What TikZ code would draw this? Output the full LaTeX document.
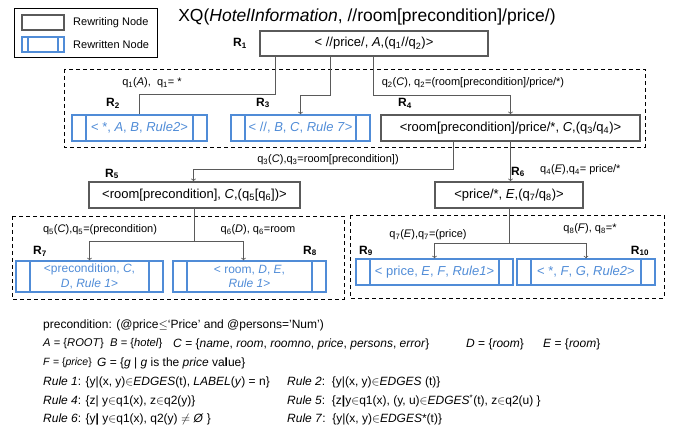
\documentclass[tikz,border=0pt]{standalone}
\usepackage{fontspec}
\setmainfont{Liberation Sans}
\usetikzlibrary{positioning,calc}
\definecolor{nodegray}{RGB}{90,90,90}
\definecolor{nodeblue}{RGB}{80,140,215}

\begin{document}
\begin{tikzpicture}
  [x=1pt,y=-1pt,>=to,
   rewriting/.style={draw=nodegray,line width=1.6pt,inner sep=0pt,font=\fontsize{13}{15}\selectfont},
   rewritten/.style={draw=nodeblue,line width=1.4pt,inner sep=0pt,text=nodeblue,align=center,
     font=\fontsize{13}{15}\selectfont,
     path picture={\draw[nodeblue,line width=1.4pt]
       ([xshift=#1]path picture bounding box.north west) -- ([xshift=#1]path picture bounding box.south west)
       ([xshift=-#1]path picture bounding box.north east) -- ([xshift=-#1]path picture bounding box.south east);}},
   rewritten/.default=14pt,
   twoline/.style={font=\fontsize{12}{14.5}\selectfont},
   rname/.style={font=\bfseries\fontsize{12}{14}\selectfont},
   qlabel/.style={font=\fontsize{11}{13}\selectfont,inner sep=0pt},
   note/.style={anchor=west,inner sep=0pt,font=\fontsize{12}{14}\selectfont},
   small/.style={font=\fontsize{11.2}{13}\selectfont},
   region/.style={draw,dash pattern=on 4pt off 3pt,line width=0.7pt},
   conn/.style={draw=nodegray,line width=0.8pt}]

  \useasboundingbox (0,0) rectangle (678,427);

  % legend
  \draw[line width=0.8pt] (14,8) rectangle (157,57);
  \node[rewriting,minimum width=42pt,minimum height=15pt] (lgray) at (43,22.5) {};
  \node[rewritten=6pt,minimum width=42pt,minimum height=15pt] (lblue) at (43,44.5) {};
  \node[anchor=west,inner sep=0pt,font=\fontsize{11}{13}\selectfont] (lgraytext) at (73,22.5) {Rewriting Node};
  \node[anchor=west,inner sep=0pt,font=\fontsize{11}{13}\selectfont] (lbluetext) at (73,45) {Rewritten Node};

  \node[font=\fontsize{17.5}{20}\selectfont] (title) at (367,17) {XQ(\textit{HotelInformation}, //room[precondition]/price/)};

  % dashed regions
  \draw[region] (64,69) rectangle (645,147);
  \draw[region] (12,216) rectangle (344,299);
  \draw[region] (350,215) rectangle (664,298);

  % nodes
  \node[rewriting,minimum width=228pt,minimum height=25pt] (r1) at (374,43.5)
    {< //price/, \textit{A},(q\textsubscript{1}//q\textsubscript{2})>};
  \node[rewritten,minimum width=135pt,minimum height=26pt] (r2) at (139.5,128)
    {< *, \textit{A}, \textit{B}, \textit{Rule2}>};
  \node[rewritten,minimum width=139pt,minimum height=26pt] (r3) at (300.5,128)
    {< //, \textit{B}, \textit{C}, \textit{Rule 7}>};
  \node[rewriting,minimum width=259pt,minimum height=26pt] (r4) at (510.5,128)
    {<room[precondition]/price/*, \textit{C},(q\textsubscript{3}/q\textsubscript{4})>};
  \node[rewriting,minimum width=211pt,minimum height=26pt] (r5) at (194.5,195)
    {<room[precondition], \textit{C},(q\textsubscript{5}[q\textsubscript{6}])>};
  \node[rewriting,minimum width=148pt,minimum height=26pt] (r6) at (509,195)
    {<price/*, \textit{E},(q\textsubscript{7}/q\textsubscript{8})>};
  \node[rewritten,twoline,minimum width=147pt,minimum height=31pt] (r7) at (89.5,276.5)
    {<precondition, \textit{C},\\ \textit{D}, \textit{Rule 1}>};
  \node[rewritten,twoline,minimum width=153pt,minimum height=31pt] (r8) at (249.5,276.5)
    {< room, \textit{D}, \textit{E},\\ \textit{Rule 1}>};
  \node[rewritten,minimum width=157pt,minimum height=26pt] (r9) at (434.5,272)
    {< price, \textit{E}, \textit{F}, \textit{Rule1}>};
  \node[rewritten,minimum width=138pt,minimum height=26pt] (r10) at (586,272)
    {< *, \textit{F}, \textit{G}, \textit{Rule2}>};

  \node[rname] (n1) at (240,43) {R\textsubscript{1}};
  \node[rname] (n2) at (113,103) {R\textsubscript{2}};
  \node[rname] (n3) at (263,103) {R\textsubscript{3}};
  \node[rname] (n4) at (405,103) {R\textsubscript{4}};
  \node[rname] (n5) at (112,174) {R\textsubscript{5}};
  \node[rname] (n6) at (518,172) {R\textsubscript{6}};
  \node[rname] (n7) at (40,251) {R\textsubscript{7}};
  \node[rname] (n8) at (310,251) {R\textsubscript{8}};
  \node[rname] (n9) at (366,251) {R\textsubscript{9}};
  \node[rname] (n10) at (640,251) {R\textsubscript{10}};

  % connectors
  \draw[conn] ([xshift=16pt]r1.south west) -- ++(0,38) -| (r2.north);
  \draw[conn,->] ([xshift=71pt]r1.south west) -- ++(0,39) -| (r3.north);
  \draw[conn,->] ([xshift=114pt]r1.south west) -- ++(0,39) -| (r4.north);
  \draw[conn,->] ([xshift=73pt]r4.south west) -- ++(0,28) -| ([xshift=-1pt]r5.north);
  \draw[conn,->] (r4.south) -- (r4.south |- r6.north);
  \draw[conn] (r5.south) -- ++(0,33) coordinate (s5);
  \draw[conn,->] (s5) -| (r7.north);
  \draw[conn,->] (s5) -| ([xshift=-6pt]r8.north);
  \draw[conn] (r6.south) -- ++(0,35) coordinate (s6);
  \draw[conn,->] (s6) -| (r9.north);
  \draw[conn,->] (s6) -| (r10.north);

  % edge labels
  \node[qlabel] (q1) at (152,83) {q\textsubscript{1}(\textit{A}),\ \ q\textsubscript{1}= *};
  \node[qlabel] (q2) at (473,83) {q\textsubscript{2}(\textit{C}), q\textsubscript{2}=(room[precondition]/price/*)};
  \node[qlabel] (q3) at (328,160) {q\textsubscript{3}(\textit{C}),q\textsubscript{3}=room[precondition])};
  \node[qlabel,anchor=west] (q4) at (540,170) {q\textsubscript{4}(\textit{E}),q\textsubscript{4}= price/*};
  \node[qlabel] (q5) at (100,230) {q\textsubscript{5}(\textit{C}),q\textsubscript{5}=(precondition)};
  \node[qlabel] (q6) at (258,230) {q\textsubscript{6}(\textit{D}), q\textsubscript{6}=room};
  \node[qlabel] (q7) at (428,235) {q\textsubscript{7}(\textit{E}),q\textsubscript{7}=(price)};
  \node[qlabel] (q8) at (590,229) {q\textsubscript{8}(\textit{F}), q\textsubscript{8}=*};

  % notes
  \node[note] (pre) at (43,325) {precondition: (@price$\leq$`Price' and @persons='Num')};
  \node[note,small] (setA) at (43,344) {\textit{A} = \{\textit{ROOT}\}};
  \node[note,small] (setB) at (110,344) {\textit{B} = \{\textit{hotel}\}};
  \node[note] (setC) at (173,344) {\textit{C} = \{\textit{name}, \textit{room}, \textit{roomno}, \textit{price}, \textit{persons}, \textit{error}\}};
  \node[note] (setD) at (466,344) {\textit{D} = \{\textit{room}\}};
  \node[note] (setE) at (543,344) {\textit{E} = \{\textit{room}\}};
  \node[note,font=\fontsize{10.5}{12}\selectfont] (setF) at (43,363) {\textit{F} = \{\textit{price}\}};
  \node[note] (setG) at (97,363) {\textit{G} = \{\textit{g} | \textit{g} is the \textit{price} va\textbf{l}ue\}};
  \node[note] (rule1) at (43,382) {\textit{Rule 1}: \{y|(x, y)$\in$\textit{EDGES}(t), \textit{LABEL}(\textit{y}) = n\}};
  \node[note] (rule2) at (287,382) {\textit{Rule 2}:\ \ \{y|(x, y)$\in$\textit{EDGES} (t)\}};
  \node[note] (rule4) at (43,401) {\textit{Rule 4}: \{z| y$\in$q1(x), z$\in$q2(y)\}};
  \node[note] (rule5) at (287,401) {\textit{Rule 5}:\ \ \{z\textbf{|}y$\in$q1(x), (y, u)$\in$\textit{EDGES}\textsuperscript{*}(t), z$\in$q2(u) \}};
  \node[note] (rule6) at (43,419) {\textit{Rule 6}: \{y\textbf{|} y$\in$q1(x), q2(y) $\neq$ \textit{Ø} \}};
  \node[note] (rule7) at (287,419) {\textit{Rule 7}:\ \ \{y|(x, y)$\in$\textit{EDGES}*(t)\}};

\end{tikzpicture}
\end{document}
